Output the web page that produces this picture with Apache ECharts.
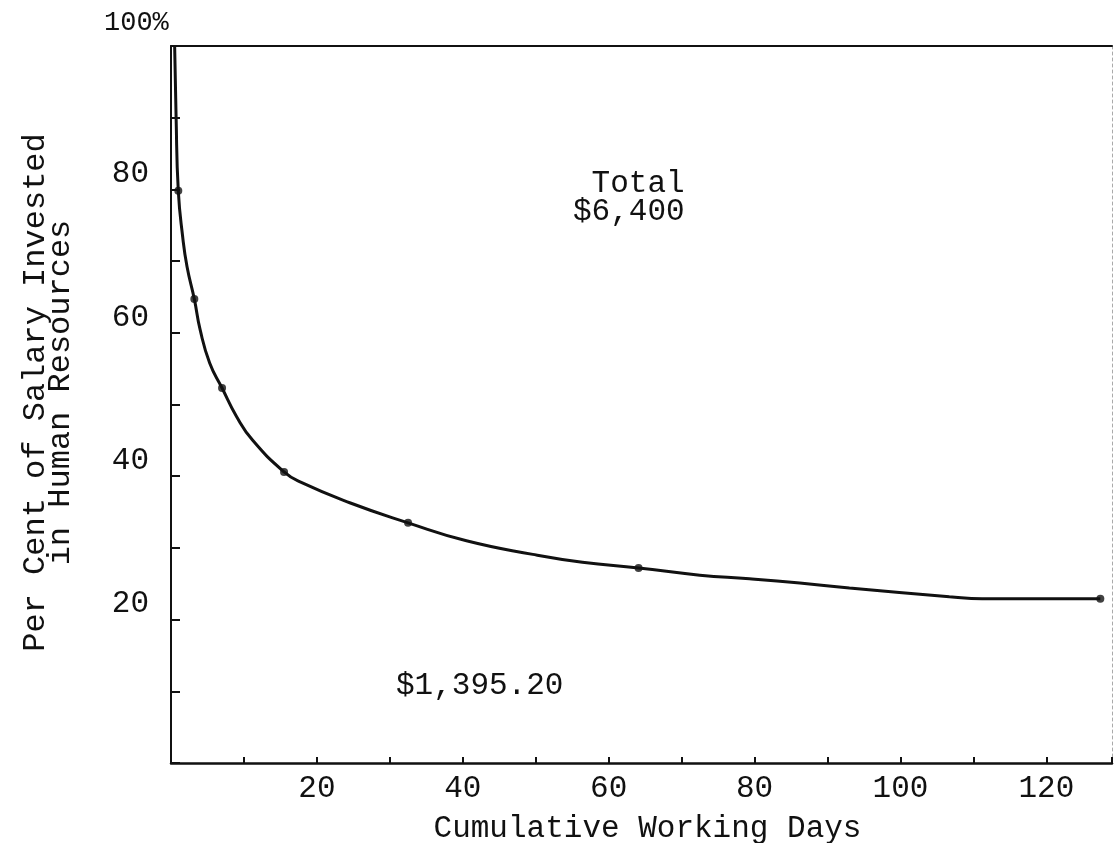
<!doctype html>
<html>
<head>
<meta charset="utf-8">
<title>Cumulative Working Days</title>
<style>
    html, body { margin: 0; padding: 0; background: #fff; }
    #chart { width: 1114px; height: 843px; }
</style>
</head>
<body>
<div id="chart"></div>
<script src="https://cdn.jsdelivr.net/npm/echarts@6/dist/echarts.min.js"></script>
<script>
    // curve (day, per cent)
    var curveDays = [0.5, 0.7, 1.0, 1.6, 2.2, 3.2, 4.0, 5.3, 7.0, 9.0, 11.2, 15.5, 17.7, 24.5, 32.5, 40.5, 49.6, 56.4, 64.1, 72.5, 79.3, 86.2, 93.0, 106.7, 111.2, 120.4, 127.4];
    var curvePct = [100, 90, 79.8, 73.4, 69.2, 64.7, 60.4, 55.8, 52.3, 48.3, 45.0, 40.6, 39.2, 36.3, 33.5, 31.0, 29.1, 28.0, 27.2, 26.2, 25.7, 25.1, 24.4, 23.2, 22.9, 22.9, 22.9];

    // plotted dots
    var dotDays = [1.0, 3.2, 7.0, 15.5, 32.5, 64.1, 127.4];
    var dotPct = [79.8, 64.7, 52.3, 40.6, 33.5, 27.2, 22.9];

    var xLabels = [20, 40, 60, 80, 100, 120];
    var yLabels = [20, 40, 60, 80];

    var FONT = '"Liberation Mono", "DejaVu Sans Mono", monospace';
    var INK = '#111';

    var curve = curveDays.map(function (d, i) { return [d, curvePct[i]]; });
    var dots = dotDays.map(function (d, i) { return [d, dotPct[i]]; });

    var myChart = echarts.init(document.getElementById('chart'));

    var option = {
        backgroundColor: '#fff',
        animation: false,
        grid: {
            left: 171,
            right: 2,
            top: 46,
            bottom: 80,
            containLabel: false,
            outerBoundsMode: 'none'
        },
        xAxis: [{
            type: 'value',
            min: 0,
            max: 129,
            interval: 10,
            name: 'Cumulative Working Days',
            nameLocation: 'middle',
            nameGap: 50,
            nameTextStyle: { fontFamily: FONT, fontSize: 31, color: INK, padding: [0, 0, 0, 12] },
            splitLine: { show: false },
            axisLine: { show: true, onZero: false, lineStyle: { color: INK, width: 2.5 } },
            axisTick: { show: true, inside: true, length: 6, lineStyle: { color: INK, width: 2 } },
            axisLabel: {
                fontFamily: FONT,
                fontSize: 31,
                color: INK,
                margin: 10,
                formatter: function (v) { return xLabels.indexOf(v) >= 0 ? String(v) : ''; }
            }
        }, {
            // top border of the frame
            type: 'value',
            position: 'top',
            min: 0,
            max: 129,
            splitLine: { show: false },
            axisLine: { show: true, onZero: false, lineStyle: { color: INK, width: 2 } },
            axisTick: { show: false },
            axisLabel: { show: false }
        }],
        yAxis: [{
            type: 'value',
            min: 0,
            max: 100,
            interval: 10,
            name: 'Per Cent of Salary Invested\nin Human Resources',
            nameLocation: 'middle',
            nameRotate: 90,
            nameGap: 98,
            nameTextStyle: { fontFamily: FONT, fontSize: 32, color: INK, lineHeight: 25, padding: [0, 0, 0, 24] },
            splitLine: { show: false },
            axisLine: { show: true, onZero: false, lineStyle: { color: INK, width: 2 } },
            axisTick: { show: true, inside: true, length: 9, lineStyle: { color: INK, width: 2 } },
            axisLabel: {
                fontFamily: FONT,
                fontSize: 31,
                color: INK,
                margin: 22,
                verticalAlign: 'bottom',
                formatter: function (v) { return yLabels.indexOf(v) >= 0 ? String(v) : ''; }
            }
        }, {
            // faint right edge
            type: 'value',
            position: 'right',
            min: 0,
            max: 100,
            splitLine: { show: false },
            axisLine: { show: true, onZero: false, lineStyle: { color: '#aaa', width: 1, type: [3, 3] } },
            axisTick: { show: false },
            axisLabel: { show: false }
        }],
        graphic: [{
            type: 'text',
            left: 104,
            top: 9,
            style: { text: '100%', font: '27px ' + FONT, fill: INK }
        }, {
            type: 'text',
            left: 573,
            top: 168,
            style: { text: ' Total\n$6,400', font: '31px ' + FONT, fill: INK, lineHeight: 28 }
        }, {
            type: 'text',
            left: 396,
            top: 670,
            style: { text: '$1,395.20', font: '31px ' + FONT, fill: INK }
        }],
        series: [{
            name: 'curve',
            type: 'line',
            data: curve,
            smooth: 0.5,
            showSymbol: false,
            lineStyle: { color: INK, width: 3 },
            z: 2
        }, {
            name: 'points',
            type: 'scatter',
            data: dots,
            symbolSize: 8,
            itemStyle: { color: INK },
            z: 3
        }]
    };

    myChart.setOption(option);
</script>
</body>
</html>
